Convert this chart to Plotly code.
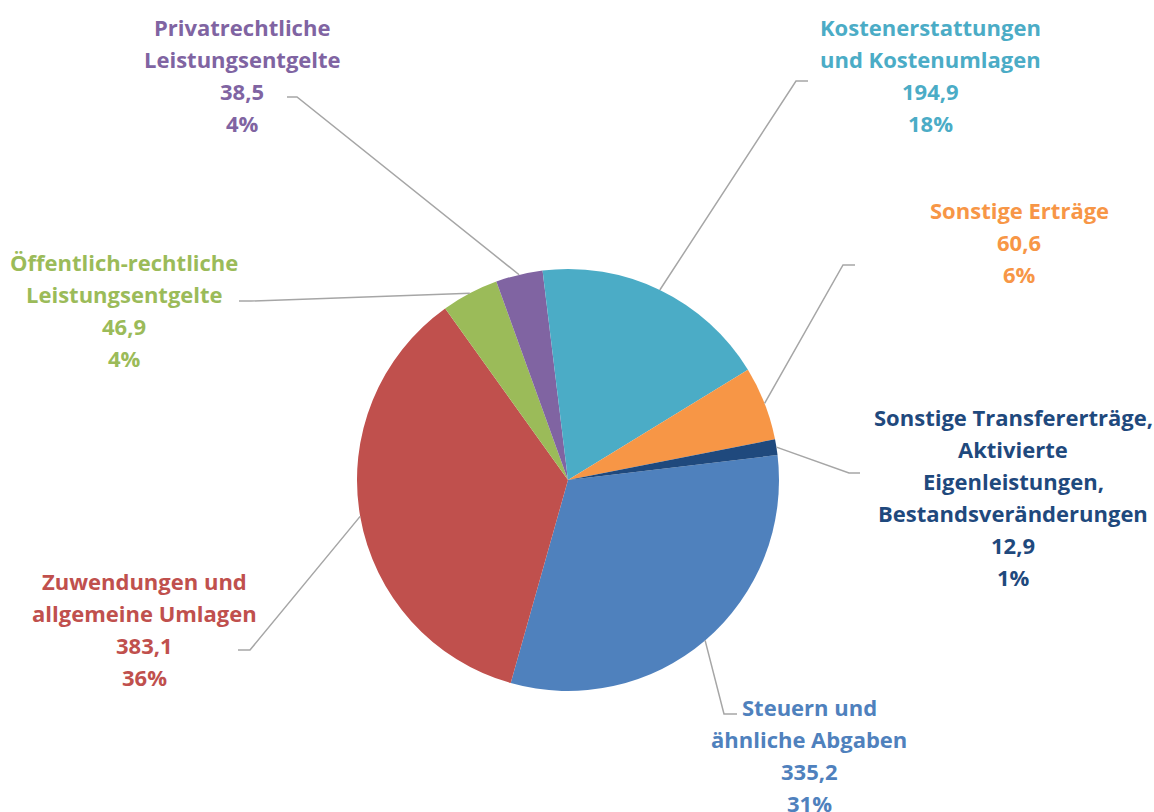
import numpy as np
import plotly.graph_objects as go

# data
names = [
    ['Steuern und', 'ähnliche Abgaben'],
    ['Zuwendungen und', 'allgemeine Umlagen'],
    ['Öffentlich-rechtliche', 'Leistungsentgelte'],
    ['Privatrechtliche', 'Leistungsentgelte'],
    ['Kostenerstattungen', 'und Kostenumlagen'],
    ['Sonstige Erträge'],
    ['Sonstige Transfererträge,', 'Aktivierte', 'Eigenleistungen,', 'Bestandsveränderungen'],
]
values = [335.2, 383.1, 46.9, 38.5, 194.9, 60.6, 12.9]
colors = ['#4F81BD', '#C0504D', '#9BBB59', '#8064A2', '#4BACC6', '#F79646', '#1F497D']

# layout (pixels in a 1154x812 canvas)
W, H = 1154, 812
CX, CY, R = 568, 480, 211
ROTATION = 83.2
LINE_PITCH = 32
label_pos = [(809, 707), (144, 581), (124, 262), (242, 27), (930, 27), (1019, 210), (1013, 417)]
elbows = [((724, 714), (737, 714)), ((250, 650), (238, 650)), ((251, 301), (239, 301)),
          ((297, 97), (287, 97)), ((796, 81), (808, 81)), ((843, 265), (855, 265)),
          ((849, 473), (860, 473))]


def px(x, y):
    return float(x) / W, 1 - float(y) / H


total = sum(values)
fig = go.Figure(go.Pie(
    labels=[' '.join(n) for n in names],
    values=values,
    sort=False,
    direction='clockwise',
    rotation=ROTATION,
    marker=dict(colors=colors, line=dict(width=0)),
    textinfo='none',
    hoverinfo='label+value+percent',
    domain=dict(x=[(CX - R) / W, (CX + R) / W], y=[1 - (CY + R) / H, 1 - (CY - R) / H]),
    showlegend=False,
))

annotations = []
shapes = []
cum = 0.0
for name, v, c, (lx, ly), (elb, end) in zip(names, values, colors, label_pos, elbows):
    mid = np.radians(ROTATION + 360 * (cum + v / (2 * total)))
    cum += v / total
    sx, sy = CX + R * np.sin(mid), CY - R * np.cos(mid)
    lines = name + [f'{v:.1f}'.replace('.', ','), f'{round(100 * v / total)}%']
    for i, t in enumerate(lines):
        x, y = px(lx, ly + i * LINE_PITCH)
        annotations.append(dict(
            x=x, y=y, xref='paper', yref='paper', text=f'<b>{t}</b>', showarrow=False,
            xanchor='center', yanchor='middle',
            font=dict(family='Open Sans', size=22, color=c),
        ))
    p = [px(sx, sy), px(*elb), px(*end)]
    shapes.append(dict(
        type='path', xref='paper', yref='paper',
        path='M {} {} L {} {} L {} {}'.format(*[k for pt in p for k in pt]),
        line=dict(color='#A6A6A6', width=1.5),
    ))

fig.update_layout(
    width=W, height=H,
    margin=dict(l=0, r=0, t=0, b=0),
    paper_bgcolor='white',
    plot_bgcolor='white',
    annotations=annotations,
    shapes=shapes,
)
fig.write_html('out.html', config={'displayModeBar': False},
               post_script="document.body.style.margin='0';document.body.style.overflow='hidden';")
